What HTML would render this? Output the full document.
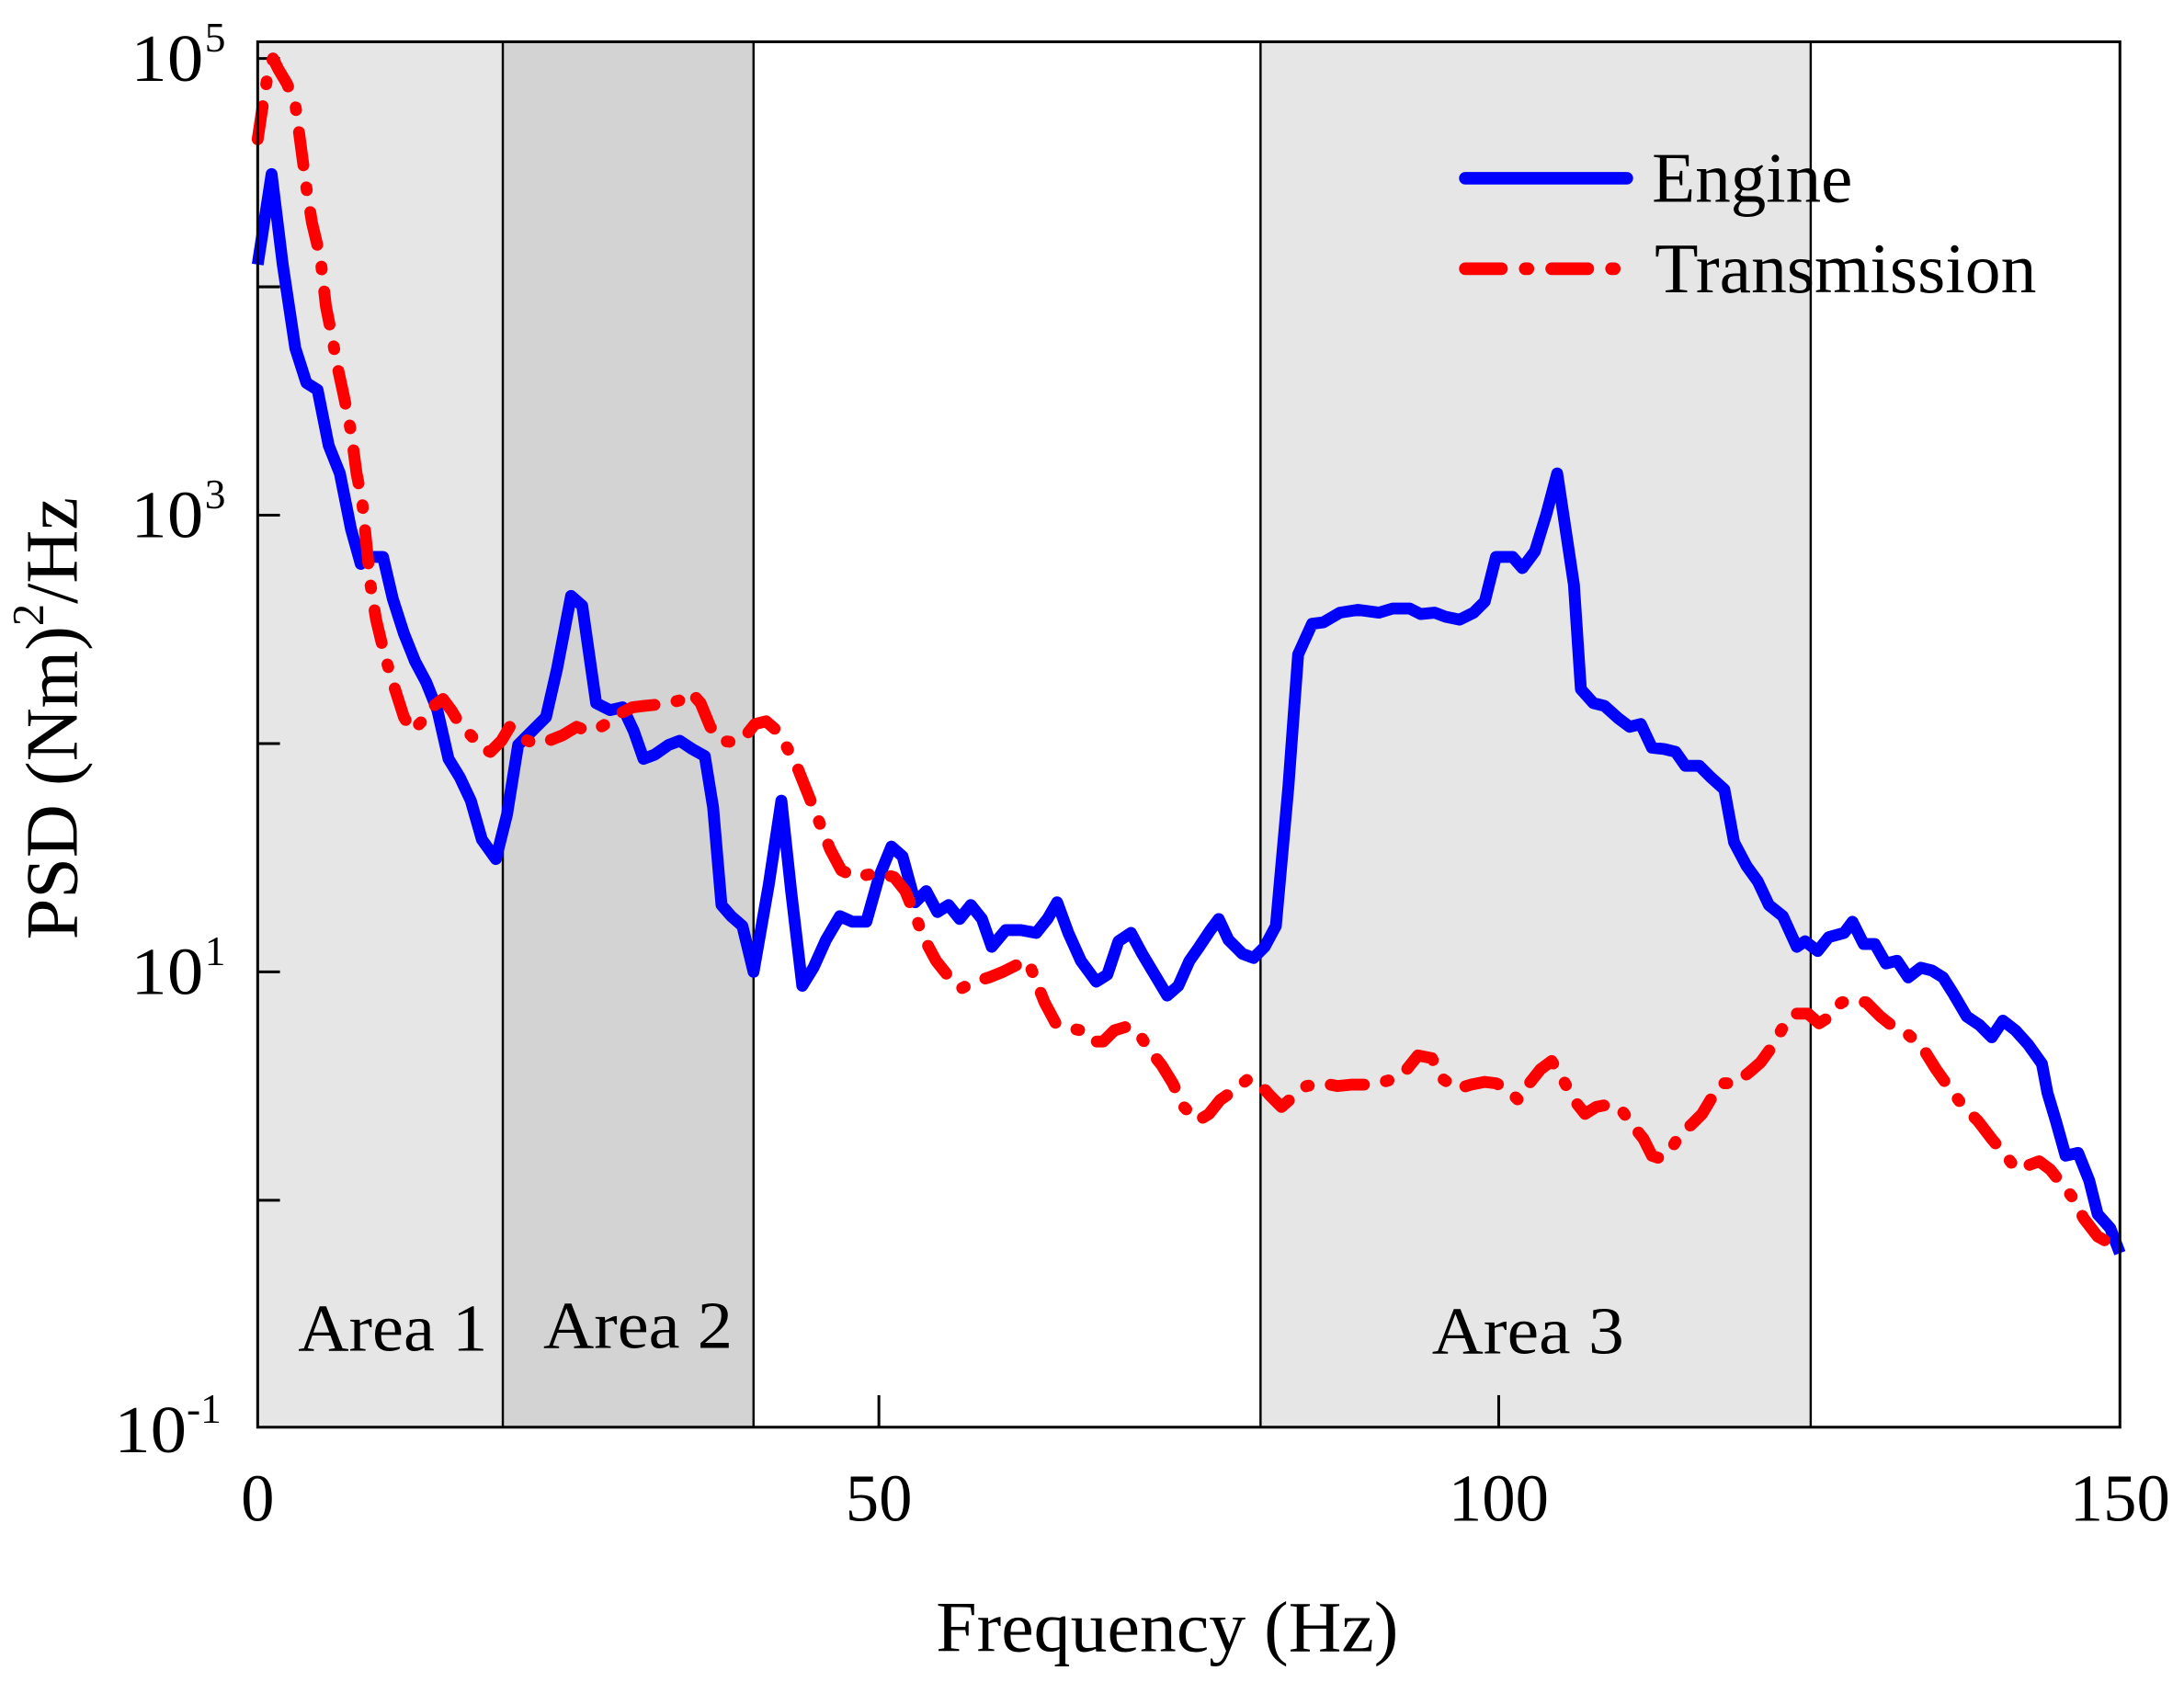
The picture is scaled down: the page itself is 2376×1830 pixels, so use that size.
<!DOCTYPE html>
<html><head><meta charset="utf-8"><style>
html,body{margin:0;padding:0;background:#fff;}
svg{display:block;}
text{font-family:"Liberation Serif",serif;fill:#000;}
</style></head><body>
<svg width="2376" height="1830" viewBox="0 0 1568 1208" preserveAspectRatio="none" xmlns="http://www.w3.org/2000/svg">
<rect x="185" y="30" width="176" height="995" fill="#e6e6e6"/>
<rect x="361" y="30" width="180" height="995" fill="#d3d3d3"/>
<rect x="905" y="30" width="395" height="995" fill="#e6e6e6"/>
<g stroke="#000" stroke-width="1.6">
<line x1="361" y1="30" x2="361" y2="1025"/>
<line x1="541" y1="30" x2="541" y2="1025"/>
<line x1="905" y1="30" x2="905" y2="1025"/>
<line x1="1300" y1="30" x2="1300" y2="1025"/>
</g>
<g stroke="#000" stroke-width="2">
<line x1="185" y1="42" x2="201" y2="42"/>
<line x1="185" y1="206" x2="201" y2="206"/>
<line x1="185" y1="370" x2="201" y2="370"/>
<line x1="185" y1="534" x2="201" y2="534"/>
<line x1="185" y1="698" x2="201" y2="698"/>
<line x1="185" y1="862" x2="201" y2="862"/>
<line x1="631" y1="1025" x2="631" y2="1002"/>
<line x1="1076" y1="1025" x2="1076" y2="1002"/>
</g>
<text x="282" y="970" font-size="48" text-anchor="middle" textLength="136" lengthAdjust="spacingAndGlyphs">Area 1</text>
<text x="458" y="968" font-size="48" text-anchor="middle" textLength="136" lengthAdjust="spacingAndGlyphs">Area 2</text>
<text x="1097" y="972" font-size="48" text-anchor="middle" textLength="138" lengthAdjust="spacingAndGlyphs">Area 3</text>

<polyline fill="none" stroke="#0000ff" stroke-width="8.5" stroke-linejoin="round" points="185,190 195,125 203,190 212,250 220,275 228,280 236,320 244,340 252,380 259,405 266,400 275,400 282,430 290,455 298,475 306,490 314,510 322,545 330,558 338,575 346,603 356,617 364,585 372,535 382,525 392,515 400,480 410,428 418,435 428,505 438,510 447,508 455,525 462,545 470,542 480,535 488,532 497,538 506,543 512,580 518,650 525,658 533,665 541,698 552,635 561,575 568,640 576,708 584,695 593,675 603,658 612,662 622,662 631,630 640,608 648,615 657,648 665,640 673,655 681,650 689,660 697,650 705,660 712,680 722,668 733,668 744,670 752,660 759,648 767,670 776,690 787,705 795,700 803,676 812,670 820,685 829,700 838,715 846,708 854,690 861,680 869,668 875,660 882,675 892,685 900,688 908,680 916,665 925,565 932,470 942,448 950,447 962,440 975,438 990,440 1000,437 1012,437 1020,441 1030,440 1038,443 1048,445 1058,440 1066,432 1074,400 1086,400 1093,408 1102,396 1110,370 1118,340 1124,380 1130,420 1135,495 1144,505 1152,507 1162,516 1170,522 1178,520 1186,537 1195,538 1203,540 1210,550 1220,550 1228,558 1238,567 1245,605 1254,622 1262,633 1270,650 1280,658 1290,680 1296,676 1305,683 1313,673 1324,670 1330,662 1338,678 1346,678 1354,692 1362,690 1370,702 1379,695 1387,697 1395,702 1402,713 1412,730 1421,736 1430,745 1438,733 1447,740 1456,750 1466,764 1470,785 1476,805 1483,830 1492,828 1500,848 1506,872 1515,882 1522,900"/>

<polyline fill="none" stroke="#ff0000" stroke-width="8.5" stroke-linecap="round" stroke-linejoin="round" stroke-dasharray="24 16 2 16" points="185,100 188,80 192,55 196,42 200,50 206,60 212,75 216,105 220,135 224,160 230,185 234,220 238,240 242,262 247,285 252,310 256,340 260,360 263,390 266,420 270,445 276,470 282,490 290,515 296,525 303,518 310,508 318,502 324,510 330,520 338,528 346,537 352,540 360,532 366,522 374,530 384,534 394,532 404,528 414,522 422,525 430,523 438,518 446,512 454,508 462,507 472,506 480,505 488,503 496,497 503,505 510,522 518,532 526,533 534,530 542,520 550,518 558,525 564,535 572,550 580,570 588,590 596,610 604,625 614,630 624,628 632,627 642,630 650,640 656,655 664,675 672,690 680,700 690,710 700,705 710,702 720,698 730,693 738,690 744,705 750,720 758,735 766,738 776,740 784,748 792,748 800,740 810,737 818,743 826,755 834,765 842,778 850,795 860,805 868,800 876,790 886,783 896,775 904,778 912,787 920,795 928,788 938,780 950,778 960,780 970,779 982,779 990,778 1000,775 1010,768 1018,758 1028,760 1036,775 1046,782 1056,779 1066,777 1074,778 1082,782 1090,790 1098,778 1106,768 1114,762 1122,775 1130,790 1138,800 1146,795 1156,793 1164,797 1172,808 1180,818 1186,830 1192,832 1200,825 1206,815 1214,808 1222,800 1228,790 1236,778 1246,778 1256,770 1264,763 1272,752 1280,738 1288,728 1298,728 1306,735 1314,730 1322,720 1330,718 1340,720 1350,730 1360,738 1370,743 1380,752 1390,768 1400,782 1410,795 1420,805 1430,818 1440,830 1448,840 1456,837 1464,834 1472,840 1480,850 1488,860 1496,875 1506,888 1515,893 1522,898"/>

<rect x="185" y="30" width="1337" height="995" fill="none" stroke="#000" stroke-width="2"/>

<!-- legend -->
<line x1="1052" y1="128" x2="1168" y2="128" stroke="#0000ff" stroke-width="9" stroke-linecap="round"/>
<line x1="1052" y1="193" x2="1168" y2="193" stroke="#ff0000" stroke-width="9" stroke-linecap="round" stroke-dasharray="26 17 2 17"/>
<text x="1186" y="145" font-size="51" textLength="144" lengthAdjust="spacingAndGlyphs">Engine</text>
<text x="1188" y="210" font-size="51" textLength="274" lengthAdjust="spacingAndGlyphs">Transmission</text>

<!-- y tick labels -->
<g font-size="48">
<text x="94" y="58" textLength="52" lengthAdjust="spacingAndGlyphs">10</text><text x="147" y="37" font-size="30">5</text>
<text x="94" y="386" textLength="52" lengthAdjust="spacingAndGlyphs">10</text><text x="147" y="365" font-size="30">3</text>
<text x="94" y="714" textLength="52" lengthAdjust="spacingAndGlyphs">10</text><text x="147" y="693" font-size="30">1</text>
<text x="82" y="1043" textLength="52" lengthAdjust="spacingAndGlyphs">10</text><text x="134" y="1022" font-size="30">-1</text>
</g>
<g font-size="48" text-anchor="middle">
<text x="185" y="1092">0</text>
<text x="631" y="1092">50</text>
<text x="1076" y="1092">100</text>
<text x="1522" y="1092">150</text>
</g>
<text x="838" y="1186" font-size="52" text-anchor="middle" textLength="332" lengthAdjust="spacingAndGlyphs">Frequency (Hz)</text>
<text transform="translate(55,516) rotate(-90)" font-size="53" text-anchor="middle">PSD (Nm)<tspan font-size="32" dy="-24">2</tspan><tspan dy="24">/Hz</tspan></text>
</svg>
</body></html>
